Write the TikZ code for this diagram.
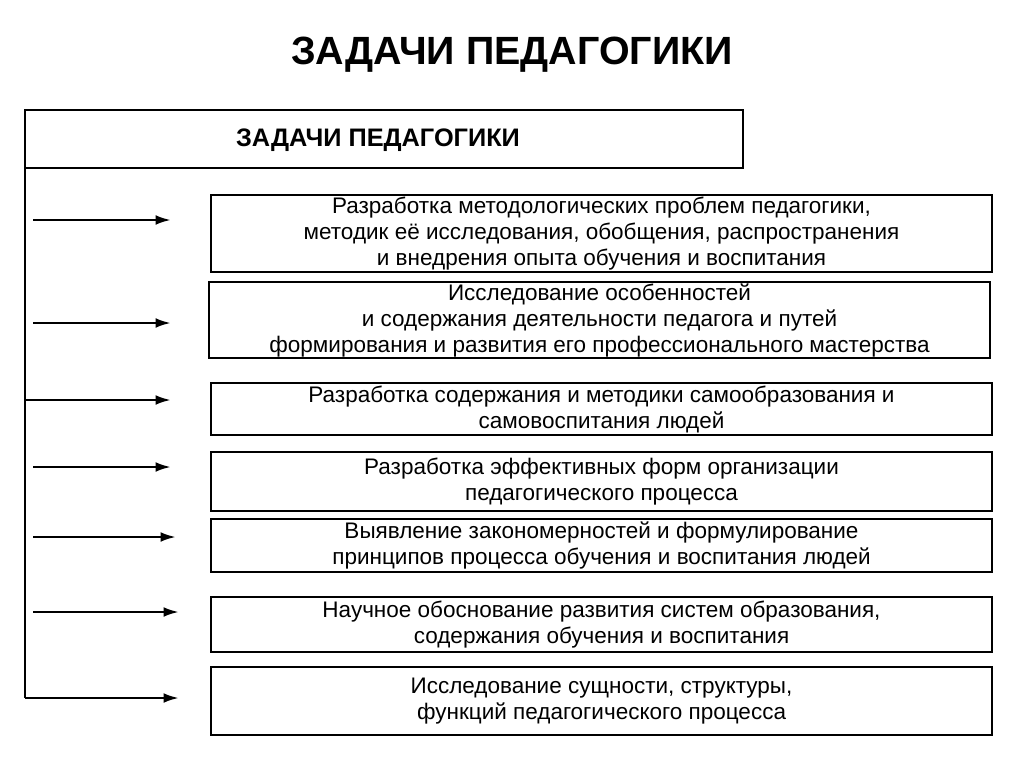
\documentclass[tikz,border=0pt]{standalone}
\usepackage{fontspec}
\setmainfont{Liberation Sans}
\usetikzlibrary{arrows.meta}
\begin{document}
\begin{tikzpicture}[x=0.711pt,y=-0.711pt,
  line width=2pt,
  task/.style={align=center,font=\fontsize{16}{18.5}\selectfont,inner sep=0pt},
  arr/.style={-{Latex[length=11pt,width=7pt]},line width=1.8pt}]
\useasboundingbox (0,0) rectangle (1024,767);
\node[font=\bfseries\fontsize{28}{32}\selectfont] (title) at (512,55) {ЗАДАЧИ ПЕДАГОГИКИ};
\draw (25,110) rectangle (743,168);
\node[font=\bfseries\fontsize{18}{21}\selectfont] (head) at (378,140) {ЗАДАЧИ ПЕДАГОГИКИ};
\draw (25,168) -- (25,698);
\newcommand{\tbox}[6]{%
  \draw (#2,#3) rectangle (#4,#5);
  \node[task] (#1) at ({(#2+#4)/2},{(#3+#5)/2}) {#6};}
\tbox{b1}{211}{195}{992}{272}{Разработка методологических проблем педагогики,\\ методик её исследования, обобщения, распространения\\ и внедрения опыта обучения и воспитания}
\tbox{b2}{209}{282}{990}{358}{Исследование особенностей\\ и содержания деятельности педагога и путей\\ формирования и развития его профессионального мастерства}
\tbox{b3}{211}{383}{992}{435}{Разработка содержания и методики самообразования и\\ самовоспитания людей}
\tbox{b4}{211}{452}{992}{511}{Разработка эффективных форм организации\\ педагогического процесса}
\tbox{b5}{211}{519}{992}{572}{Выявление закономерностей и формулирование\\ принципов процесса обучения и воспитания людей}
\tbox{b6}{211}{597}{992}{652}{Научное обоснование развития систем образования,\\ содержания обучения и воспитания}
\tbox{b7}{211}{667}{992}{735}{Исследование сущности, структуры,\\ функций педагогического процесса}
\coordinate (s1) at (33,220); \coordinate (e1) at (171,220);
\coordinate (s2) at (33,323); \coordinate (e2) at (171,323);
\coordinate (s3) at (25,400); \coordinate (e3) at (171,400);
\coordinate (s4) at (33,467); \coordinate (e4) at (171,467);
\coordinate (s5) at (33,537); \coordinate (e5) at (176,537);
\coordinate (s6) at (33,612); \coordinate (e6) at (179,612);
\coordinate (s7) at (25,698); \coordinate (e7) at (179,698);
\foreach \i in {1,...,7} \draw[arr] (s\i) -- (e\i);
\end{tikzpicture}
\end{document}
